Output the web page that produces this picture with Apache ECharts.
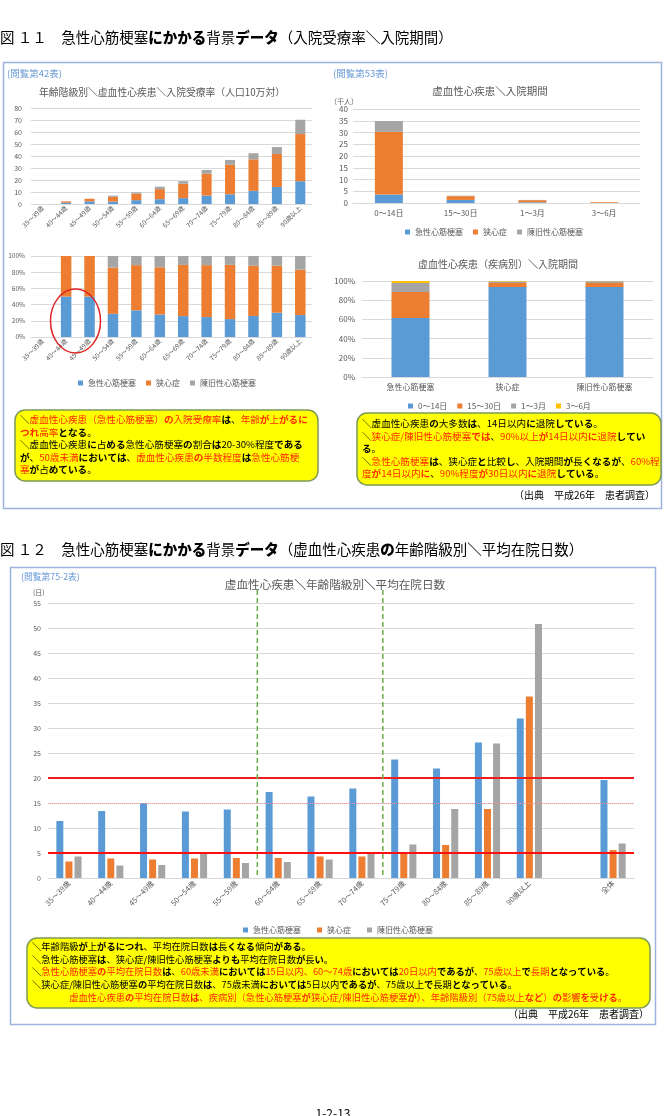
<!DOCTYPE html>
<html><head><meta charset="utf-8">
<script src="https://cdn.jsdelivr.net/npm/echarts@6/dist/echarts.min.js"></script>
<style>html,body{margin:0;padding:0;background:#fff}#c{width:665px;height:1116px}</style>
</head><body><div id="c"></div>
<script>
// ---------- data ----------
const ageCats = ['35～39歳','40～44歳','45～49歳','50～54歳','55～59歳','60～64歳','65～69歳','70～74歳','75～79歳','80～84歳','85～89歳','90歳以上'];
const diseaseNames = ['急性心筋梗塞','狭心症','陳旧性心筋梗塞'];
// 入院受療率（人口10万対）
const rateAMI    = [0, 1.1, 2.2, 2.0, 3.2, 4.0, 4.9, 7.0, 8.1, 11.0, 14.2, 19.0];
const rateAngina = [0, 1.1, 2.2, 4.0, 5.4, 8.4, 12.0, 18.2, 24.6, 26.2, 27.5, 39.3];
const rateOld    = [0, 0, 0, 1.0, 1.1, 2.0, 2.1, 3.2, 4.0, 5.1, 5.7, 11.9];
// 入院期間（千人）
const stayCats   = ['0～14日','15～30日','1～3月','3～6月'];
const stayAMI    = [3.6, 1.3, 0.3, 0.05];
const stayAngina = [26.7, 1.6, 0.9, 0.3];
const stayOld    = [4.6, 0.2, 0.1, 0.02];
// 疾病別 入院期間（%）
const share0to14  = [61.5, 93.8, 93.7];
const share15to30 = [27.0, 4.2, 4.3];
const share1to3   = [9.5, 1.5, 1.7];
const share3to6   = [2.0, 0.5, 0.3];
// 平均在院日数（日）
const losCats   = ageCats.concat(['', '全体']);
const losAMI    = [11.4, 13.4, 15.0, 13.3, 13.7, 17.2, 16.3, 17.9, 23.7, 21.9, 27.1, 31.9, null, 19.6];
const losAngina = [3.3, 3.9, 3.7, 3.9, 4.0, 4.0, 4.3, 4.3, 5.1, 6.6, 13.8, 36.3, null, 5.6];
const losOld    = [4.3, 2.5, 2.6, 5.1, 3.0, 3.2, 3.7, 4.9, 6.7, 13.8, 26.9, 50.8, null, 6.9];
const losRefLines = [20, 5];
const losDottedLine = 15;

// ---------- texts ----------
const title11 = [[['図 １１　急性心筋梗塞にかかる背景データ（入院受療率＼入院期間）','k']]];
const title12 = [[['図 １２　急性心筋梗塞にかかる背景データ（虚血性心疾患の年齢階級別＼平均在院日数）','k']]];
const boxLeft = [
  [['＼','k'],['虚血性心疾患（急性心筋梗塞）の入院受療率','r'],['は、','k'],['年齢が上がるに','r']],
  [['つれ高率','r'],['となる。','k']],
  [['＼虚血性心疾患に占める急性心筋梗塞の割合は20-30%程度である','k']],
  [['が、','k'],['50歳未満','r'],['においては、','k'],['虚血性心疾患の半数程度','r'],['は','k'],['急性心筋梗','r']],
  [['塞','r'],['が占めている。','k']]
];
const boxRight = [
  [['＼虚血性心疾患の大多数は、14日以内に退院している。','k']],
  [['＼','k'],['狭心症/陳旧性心筋梗塞では','r'],['、','k'],['90%以上が14日以内に退院','r'],['してい','k']],
  [['る。','k']],
  [['＼','k'],['急性心筋梗塞','r'],['は、狭心症と比較し、入院期間が長くなるが、','k'],['60%程','r']],
  [['度が14日以内に','r'],['、','k'],['90%程度が30日以内に退院','r'],['している。','k']]
];
const boxBottom = [
  [['＼年齢階級が上がるにつれ、平均在院日数は長くなる傾向がある。','k']],
  [['＼急性心筋梗塞は、狭心症/陳旧性心筋梗塞よりも平均在院日数が長い。','k']],
  [['＼','k'],['急性心筋梗塞の平均在院日数','r'],['は、','k'],['60歳未満','r'],['においては','k'],['15日以内、60～74歳','r'],['においては','k'],['20日以内','r'],['であるが、','k'],['75歳以上','r'],['で','k'],['長期','r'],['となっている。','k']],
  [['＼狭心症/陳旧性心筋梗塞の平均在院日数は、75歳未満においては5日以内であるが、75歳以上で長期となっている。','k']],
  [['　　　　','k'],['虚血性心疾患の平均在院日数は、疾病別（急性心筋梗塞が狭心症/陳旧性心筋梗塞が）、年齢階級別（75歳以上など）の影響を受ける。','r']]
];

// ---------- helpers ----------
const FONT = '"Noto Sans CJK JP", "Noto Sans", sans-serif';
const COL = {k:'#000000', r:'#ff2a00', g:'#595959', d:'#303030'};
const BLUE='#5b9bd5', ORANGE='#ed7d31', GRAY='#a5a5a5', YELLOW='#ffc000';

function richText(lines, fs, lh, boldW){
  const rich = {}; let text = '';
  lines.forEach((segs, i) => {
    if (i) text += '\n';
    segs.forEach(([str, c]) => {
      let cur = '', cb = null;
      const flush = () => {
        if (!cur) return;
        const key = c + (cb ? 'b' : 'n');
        rich[key] = {fill: COL[c], fontSize: fs, lineHeight: lh, fontWeight: cb ? (boldW || 'bold') : 'normal', fontFamily: FONT};
        text += '{' + key + '|' + cur + '}';
        cur = '';
      };
      for (const ch of str) {
        const b = /[\u3041-\u30ff＼]/.test(ch);
        if (cb !== null && b !== cb) flush();
        cb = b; cur += ch;
      }
      flush();
    });
  });
  return {text, rich};
}
function textEl(lines, x, y, fs, lh, align, boldW){
  const r = richText(lines, fs, lh, boldW);
  return {type:'text', x, y, z:20, style:{text:r.text, rich:r.rich, fontSize:fs, fontFamily:FONT, align: align||'left', verticalAlign:'top'}};
}
function chartTitle(str, cx, cy, fs){
  const segs = str.split(/(＼)/).filter(s => s).map(s => [s, s === '＼' ? 'd' : 'g']);
  const r = richText([segs], fs, fs * 1.3, 'bold');
  return {type:'text', x:cx, y:cy, z:20, style:{text:r.text, rich:r.rich, fontSize:fs, fontFamily:FONT, align:'center', verticalAlign:'middle'}};
}
function plain(str, x, y, fs, color, align, weight){
  return {type:'text', x, y, z:20, style:{text:str, fontSize:fs, fontFamily:FONT, fill:color, align: align||'left', verticalAlign:'middle', fontWeight: weight||'normal'}};
}
function yAx(gi, max, interval, fs, margin, fmt){
  const a = {type:'value', gridIndex:gi, min:0, max, interval,
    axisLine:{show:false}, axisTick:{show:false},
    splitLine:{lineStyle:{color:'#d9d9d9', width:1}},
    axisLabel:{fontSize:fs, color:'#595959', margin, fontFamily:FONT}};
  if (fmt) a.axisLabel.formatter = fmt;
  return a;
}
function xAx(gi, data, fs, rotate, margin){
  return {type:'category', gridIndex:gi, data,
    axisLine:{lineStyle:{color:'#d9d9d9'}}, axisTick:{show:false},
    axisLabel:{fontSize:fs, color:'#595959', rotate, margin, interval:0, fontFamily:FONT}};
}
function bar(name, idx, data, color, extra){
  return Object.assign({type:'bar', name, xAxisIndex:idx, yAxisIndex:idx, data, itemStyle:{color}, animation:false}, extra||{});
}
function refLine(name, value, lineStyle){
  return {type:'line', name, xAxisIndex:4, yAxisIndex:4, z:10, data:losCats.map(() => null), silent:true,
    itemStyle:{color:lineStyle.color}, lineStyle:{color:lineStyle.color},
    markLine:{symbol:'none', silent:true, label:{show:false}, animation:false, lineStyle, data:[{yAxis:value}]}};
}
const pct = (arr) => arr.map((v, k) => {
  const t = rateAMI[k] + rateAngina[k] + rateOld[k];
  return t ? +(v / t * 100).toFixed(1) : 0;
});

// ---------- grids ----------
const G = [
  {left:31, top:108, width:281, height:96},
  {left:353, top:109, width:287, height:94},
  {left:31, top:256, width:281, height:81},
  {left:362, top:281, width:291, height:96},
  {left:48, top:603, width:586, height:275}
];
const legendBase = {icon:'rect', itemWidth:5, itemHeight:5, itemGap:10, padding:0, selectedMode:false,
  textStyle:{fontSize:8, color:'#595959', fontFamily:FONT}};

const catW = G[4].width / losCats.length;
const gx1 = G[4].left + catW * 5, gx2 = G[4].left + catW * 8;

const chart = echarts.init(document.getElementById('c'), null, {renderer:'canvas'});
chart.setOption({
  animation:false,
  backgroundColor:'#ffffff',
  textStyle:{fontFamily:FONT},
  grid: G.map(g => Object.assign({containLabel:false, outerBoundsMode:'none'}, g)),
  xAxis: [
    xAx(0, ageCats, 6.5, 45, 3),
    xAx(1, stayCats, 8, 0, 6),
    xAx(2, ageCats, 6.5, 45, 3),
    xAx(3, diseaseNames, 8, 0, 6),
    xAx(4, losCats, 7.5, 45, 4)
  ],
  yAxis: [
    yAx(0, 80, 10, 7, 9),
    yAx(1, 40, 5, 8, 5),
    yAx(2, 100, 20, 6.5, 6, '{value}%'),
    yAx(3, 100, 20, 8, 7, '{value}%'),
    yAx(4, 55, 5, 7, 7)
  ],
  legend: [
    Object.assign({}, legendBase, {data:diseaseNames, left:405, top:228}),
    Object.assign({}, legendBase, {data:diseaseNames, left:78, top:379}),
    Object.assign({}, legendBase, {data:stayCats, left:408, top:402}),
    Object.assign({}, legendBase, {data:diseaseNames, left:243, top:926, itemGap:16})
  ],
  series: [
    bar('急性心筋梗塞', 0, rateAMI, BLUE, {stack:'a', barWidth:10}),
    bar('狭心症', 0, rateAngina, ORANGE, {stack:'a', barWidth:10}),
    bar('陳旧性心筋梗塞', 0, rateOld, GRAY, {stack:'a', barWidth:10}),

    bar('急性心筋梗塞', 1, stayAMI, BLUE, {stack:'b', barWidth:28}),
    bar('狭心症', 1, stayAngina, ORANGE, {stack:'b', barWidth:28}),
    bar('陳旧性心筋梗塞', 1, stayOld, GRAY, {stack:'b', barWidth:28}),

    bar('急性心筋梗塞', 2, pct(rateAMI), BLUE, {stack:'c', barWidth:10.5}),
    bar('狭心症', 2, pct(rateAngina), ORANGE, {stack:'c', barWidth:10.5}),
    bar('陳旧性心筋梗塞', 2, pct(rateOld), GRAY, {stack:'c', barWidth:10.5}),

    bar(stayCats[0], 3, share0to14, BLUE, {stack:'d', barWidth:38}),
    bar(stayCats[1], 3, share15to30, ORANGE, {stack:'d', barWidth:38}),
    bar(stayCats[2], 3, share1to3, GRAY, {stack:'d', barWidth:38}),
    bar(stayCats[3], 3, share3to6, YELLOW, {stack:'d', barWidth:38}),

    bar('急性心筋梗塞', 4, losAMI, BLUE, {barWidth:7, barGap:'30%'}),
    bar('狭心症', 4, losAngina, ORANGE, {barWidth:7, barGap:'30%'}),
    bar('陳旧性心筋梗塞', 4, losOld, GRAY, {barWidth:7, barGap:'30%'}),
    refLine('ref15', losDottedLine, {color:'#ff9090', width:1, type:'dotted', opacity:1}),
    refLine('ref20', losRefLines[0], {color:'#ee1c1c', width:2.2, type:'solid'}),
    refLine('ref5', losRefLines[1], {color:'#ff1010', width:2, type:'solid'})
  ],
  graphic: {elements: [
    textEl(title11, 0, 28, 14.5, 18, 'left', 900),
    {type:'rect', shape:{x:3.5, y:62.5, width:658, height:446}, style:{fill:'none', stroke:'#9db3d9', lineWidth:1.5}},
    plain('(閲覧第42表)', 7, 73, 9.5, '#6a9ad6'),
    chartTitle('年齢階級別＼虚血性心疾患＼入院受療率（人口10万対）', 162, 92, 9.8),
    plain('(閲覧第53表)', 333, 73, 9.5, '#6a9ad6'),
    chartTitle('虚血性心疾患＼入院期間', 490, 91, 10.5),
    plain('（千人）', 330, 101, 7, '#595959'),
    chartTitle('虚血性心疾患（疾病別）＼入院期間', 498, 264, 10),
    {type:'ellipse', z:20, shape:{cx:75.5, cy:321, rx:25, ry:32}, style:{fill:'none', stroke:'#e02424', lineWidth:1.5}},
    {type:'rect', z:15, shape:{x:15, y:410, width:303, height:71, r:10}, style:{fill:'#ffff00', stroke:'#7d9a55', lineWidth:1.5}},
    textEl(boxLeft, 20, 413, 9.6, 12.6),
    {type:'rect', z:15, shape:{x:357, y:413, width:304, height:72, r:10}, style:{fill:'#ffff00', stroke:'#7d9a55', lineWidth:1.5}},
    textEl(boxRight, 362, 417, 9.6, 12.6),
    plain('（出典　平成26年　患者調査）', 655, 495, 10, '#000000', 'right'),

    textEl(title12, 0, 540, 14.5, 18, 'left', 900),
    {type:'rect', shape:{x:10.5, y:567.5, width:645, height:457}, style:{fill:'none', stroke:'#9db3d9', lineWidth:1.5}},
    plain('(閲覧第75-2表)', 21, 577, 8.8, '#6a9ad6'),
    chartTitle('虚血性心疾患＼年齢階級別＼平均在院日数', 335, 585, 11.6),
    plain('(日)', 33, 592, 7, '#595959'),
    {type:'line', z:18, shape:{x1:gx1, y1:590, x2:gx1, y2:G[4].top + G[4].height}, style:{stroke:'#70ad47', lineWidth:1.5, lineDash:[5,3]}},
    {type:'line', z:18, shape:{x1:gx2, y1:590, x2:gx2, y2:G[4].top + G[4].height}, style:{stroke:'#70ad47', lineWidth:1.5, lineDash:[5,3]}},
    {type:'rect', z:15, shape:{x:27, y:938, width:623, height:70, r:10}, style:{fill:'#ffff00', stroke:'#7d9a55', lineWidth:1.5}},
    textEl(boxBottom, 32, 940, 9.3, 12.7),
    plain('（出典　平成26年　患者調査）', 649, 1014, 10, '#000000', 'right'),
    plain('1-2-13', 333, 1113, 12, '#000000', 'center')
  ]}
});
</script>
</body></html>
